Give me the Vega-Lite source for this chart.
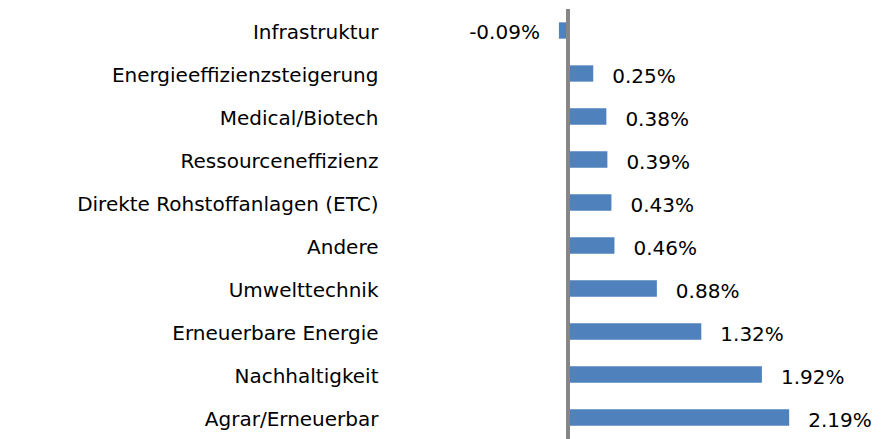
{
  "$schema": "https://vega.github.io/schema/vega-lite/v6.json",
  "autosize": "none",
  "width": 500,
  "height": 430,
  "padding": {"left": 384, "top": 9, "right": 0, "bottom": 0},
  "background": "white",
  "config": {
    "view": {"stroke": null},
    "font": "DejaVu Sans",
    "locale": {"number": {"decimal": ".", "thousands": ",", "grouping": [3], "currency": ["$", ""], "minus": "-"}}
  },
  "data": {
    "values": [
      {"category": "Infrastruktur", "value": -0.0009},
      {"category": "Energieeffizienzsteigerung", "value": 0.0025},
      {"category": "Medical/Biotech", "value": 0.0038},
      {"category": "Ressourceneffizienz", "value": 0.0039},
      {"category": "Direkte Rohstoffanlagen (ETC)", "value": 0.0043},
      {"category": "Andere", "value": 0.0046},
      {"category": "Umwelttechnik", "value": 0.0088},
      {"category": "Erneuerbare Energie", "value": 0.0132},
      {"category": "Nachhaltigkeit", "value": 0.0192},
      {"category": "Agrar/Erneuerbar", "value": 0.0219}
    ]
  },
  "encoding": {
    "y": {
      "field": "category",
      "type": "nominal",
      "sort": null,
      "scale": {"paddingInner": 0.62, "paddingOuter": 0.31},
      "axis": {
        "title": null,
        "domain": false,
        "ticks": false,
        "labelPadding": 6,
        "labelFontSize": 20,
        "labelColor": "#000000",
        "labelFont": "DejaVu Sans",
        "labelLimit": 400,
        "labelOffset": 2
      }
    }
  },
  "layer": [
    {
      "mark": {"type": "bar", "color": "#4F81BD"},
      "encoding": {
        "x": {
          "field": "value",
          "type": "quantitative",
          "scale": {"domain": [-0.01822, 0.03129], "nice": false, "zero": false},
          "axis": null
        }
      }
    },
    {
      "mark": {"type": "rule", "color": "#868686", "strokeWidth": 3},
      "encoding": {"x": {"datum": 0, "type": "quantitative"}, "y": null}
    },
    {
      "transform": [{"filter": "datum.value >= 0"}],
      "mark": {"type": "text", "align": "left", "baseline": "middle", "dx": 19, "dy": 3, "fontSize": 20, "color": "#000000"},
      "encoding": {
        "x": {"field": "value", "type": "quantitative"},
        "text": {"field": "value", "type": "quantitative", "format": ".2%"}
      }
    },
    {
      "transform": [{"filter": "datum.value < 0"}],
      "mark": {"type": "text", "align": "right", "baseline": "middle", "dx": -19, "dy": 2, "fontSize": 20, "color": "#000000"},
      "encoding": {
        "x": {"field": "value", "type": "quantitative"},
        "text": {"field": "value", "type": "quantitative", "format": ".2%"}
      }
    }
  ]
}
